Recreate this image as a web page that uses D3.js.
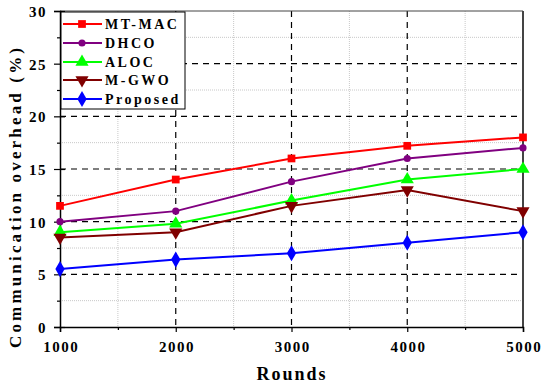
<!DOCTYPE html>
<html><head><meta charset="utf-8">
<script src="https://cdn.jsdelivr.net/npm/d3@7"></script>
<style>body{margin:0;background:#fff}svg{display:block}</style>
</head><body><svg id="c" width="550" height="385"></svg>
<script>
const rounds = [1000, 2000, 3000, 4000, 5000];
const seriesNames = ["MT-MAC", "DHCO", "ALOC", "M-GWO", "Proposed"];
const mtmac = [11.5, 14, 16, 17.2, 18];
const dhco = [10, 11, 13.8, 16, 17];
const aloc = [9, 9.8, 12, 14, 15];
const mgwo = [8.5, 9, 11.5, 13, 11];
const proposed = [5.5, 6.4, 7, 8, 9];
const xTicks = [1000, 2000, 3000, 4000, 5000];
const yTicks = [0, 5, 10, 15, 20, 25, 30];
const colors = ["#ff0000", "#800080", "#00ff00", "#800000", "#0000ff"];
const symbols = [d3.symbolSquare, d3.symbolCircle, d3.symbolTriangle, "down", d3.symbolDiamond];
const values = [mtmac, dhco, aloc, mgwo, proposed];

const FONT = "Liberation Serif";
const svg = d3.select("#c");
const L = 60, R = 523, T = 11, B = 327;
const x = d3.scaleLinear().domain([1000, 5000]).range([L, R]);
const y = d3.scaleLinear().domain([0, 30]).range([B, T]);

function font(sel, size) {
  sel.attr("font-family", FONT).attr("font-weight", "bold").attr("font-size", size)
    .style("font-family", FONT).style("font-weight", "bold").style("font-size", size + "px").attr("fill", "#000");
  return sel;
}

// minor grid
const g = svg.append("g");
g.selectAll(".mx").data([1500, 2500, 3500, 4500]).join("line")
  .attr("x1", d => x(d)).attr("x2", d => x(d)).attr("y1", T).attr("y2", B)
  .attr("stroke", "#c8c8c8").attr("stroke-width", 1).attr("stroke-dasharray", "1,1");
g.selectAll(".my").data([2.5, 7.5, 12.5, 17.5, 22.5, 27.5]).join("line")
  .attr("x1", L).attr("x2", R).attr("y1", d => y(d)).attr("y2", d => y(d))
  .attr("stroke", "#c8c8c8").attr("stroke-width", 1).attr("stroke-dasharray", "1,1");
// major grid
g.selectAll(".Mx").data([2000, 3000, 4000]).join("line")
  .attr("x1", d => x(d)).attr("x2", d => x(d)).attr("y1", T).attr("y2", B)
  .attr("stroke", "#000").attr("stroke-width", 1.2).attr("stroke-dasharray", "6,5");
g.selectAll(".My").data([5, 10, 15, 20, 25]).join("line")
  .attr("x1", L).attr("x2", R).attr("y1", d => y(d)).attr("y2", d => y(d))
  .attr("stroke", "#000").attr("stroke-width", 1.2).attr("stroke-dasharray", "6,5");

// frame top/right
svg.append("line").attr("x1", L).attr("x2", R).attr("y1", T).attr("y2", T).attr("stroke", "#444").attr("stroke-width", 1);
svg.append("line").attr("x1", R).attr("x2", R).attr("y1", T).attr("y2", B).attr("stroke", "#444").attr("stroke-width", 2);

// axes
const yAxis = svg.append("g").attr("transform", `translate(${L},0)`)
  .call(d3.axisLeft(y).tickValues(yTicks).tickSize(6).tickPadding(7));
yAxis.selectAll(".tick line").attr("x2", -6).attr("x1", 5);
const yMinor = svg.append("g").attr("transform", `translate(${L},0)`)
  .call(d3.axisLeft(y).tickValues([2.5, 7.5, 12.5, 17.5, 22.5, 27.5]).tickSize(3).tickFormat(""));
yMinor.select(".domain").remove();
const xAxis = svg.append("g").attr("transform", `translate(0,${B})`)
  .call(d3.axisBottom(x).tickValues(xTicks).tickSize(5).tickPadding(9).tickFormat(d3.format("d")));
const xMinor = svg.append("g").attr("transform", `translate(0,${B})`)
  .call(d3.axisBottom(x).tickValues([1500, 2500, 3500, 4500]).tickSize(3).tickFormat(""));
xMinor.select(".domain").remove();
[yAxis, xAxis].forEach(a => {
  a.select(".domain").attr("stroke", "#000").attr("stroke-width", 1.5);
  font(a.selectAll("text"), 15).attr("letter-spacing", "1.5px");
});
yAxis.selectAll("text").attr("dy", "0.36em");
xAxis.selectAll("text").attr("dy", "0.71em").attr("dx", "0.75px");
[yAxis, xAxis, yMinor, xMinor].forEach(a => a.selectAll(".tick line").attr("stroke", "#000").attr("stroke-width", 1.2));

// lines and markers
function sym(s, size) {
  if (s === "down") return d3.symbol(d3.symbolTriangle, size)();
  return d3.symbol(s, size)();
}
const sizes = [60, 40, 75, 75, 75];
const line = d3.line().x((d, i) => x(rounds[i])).y(d => y(d));
values.forEach((vals, k) => {
  svg.append("path").attr("d", line(vals)).attr("fill", "none").attr("stroke", colors[k]).attr("stroke-width", 2);
  svg.selectAll(null).data(vals).join("path")
    .attr("d", sym(symbols[k], sizes[k]))
    .attr("transform", (d, i) => `translate(${x(rounds[i])},${y(d)})` + (symbols[k] === "down" ? " rotate(180)" : ""))
    .attr("fill", colors[k]);
});

// legend
const lg = svg.append("g");
lg.append("rect").attr("x", 61).attr("y", 12).attr("width", 124).attr("height", 97)
  .attr("fill", "#fff").attr("stroke", "#000").attr("stroke-width", 1);
const ly = [24, 43, 62, 80, 99];
seriesNames.forEach((n, k) => {
  lg.append("line").attr("x1", 63).attr("x2", 102).attr("y1", ly[k]).attr("y2", ly[k])
    .attr("stroke", colors[k]).attr("stroke-width", 2);
  lg.append("path").attr("d", sym(symbols[k], sizes[k]))
    .attr("transform", `translate(82,${ly[k]})` + (symbols[k] === "down" ? " rotate(180)" : ""))
    .attr("fill", colors[k]);
  font(lg.append("text").attr("x", 105).attr("y", ly[k] + 5), 14)
    .attr("letter-spacing", "2.5px").text(n);
});

// titles
font(svg.append("text").attr("x", 292).attr("y", 380).attr("text-anchor", "middle"), 18)
  .attr("letter-spacing", "2px").text("Rounds");
font(svg.append("text").attr("transform", "translate(21,198) rotate(-90)").attr("text-anchor", "middle"), 17)
  .attr("textLength", 300).attr("lengthAdjust", "spacing").text("Communication overhead (%)");
</script></body></html>
